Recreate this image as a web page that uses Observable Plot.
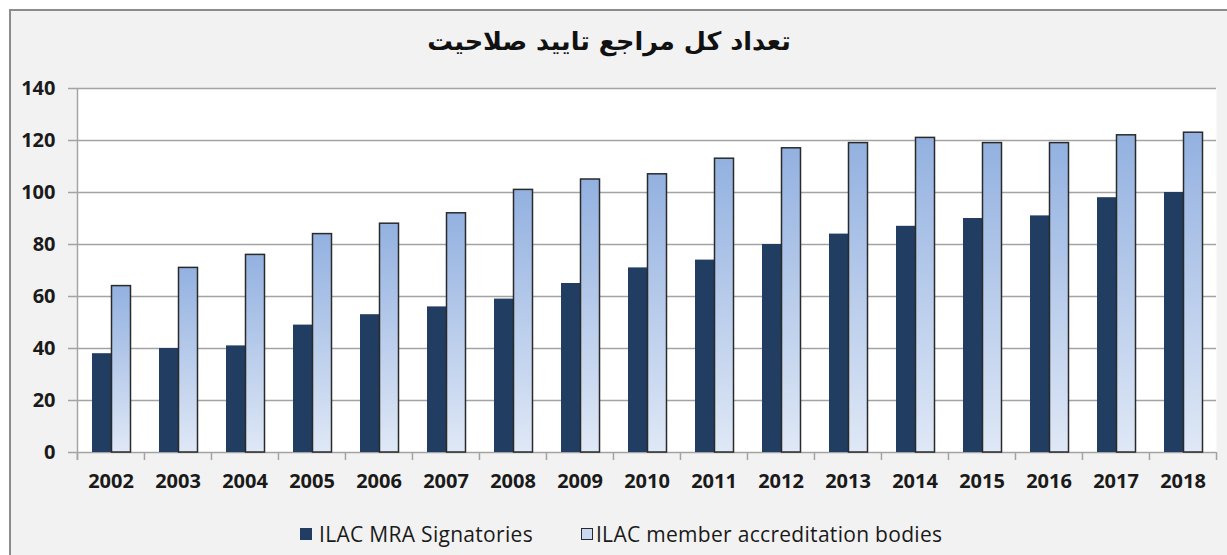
<!DOCTYPE html>
<html>
<head>
<meta charset="utf-8">
<script src="https://cdn.jsdelivr.net/npm/d3@7"></script>
<script src="https://cdn.jsdelivr.net/npm/@observablehq/plot@0.6"></script>
<style>
  html, body { margin: 0; padding: 0; background: #ffffff; }
  #wrap { position: relative; width: 1227px; height: 555px; overflow: hidden; background: #ffffff; }
  #panel { position: absolute; left: 9px; top: 9px; width: 1218px; height: 546px;
           background: #f2f2f2; border-top: 2px solid #8c8c8c; border-left: 2px solid #8c8c8c; box-sizing: border-box; }
  #title { position: absolute; left: 0; top: 26px; width: 1218px; text-align: center; direction: rtl;
           font-family: "DejaVu Sans", sans-serif; font-weight: bold; font-size: 25.5px; color: #111; }
  #chart { position: absolute; left: 0; top: 70px; }
  #legend { position: absolute; left: 300px; top: 520px; display: flex; align-items: center;
            font-family: "Open Sans", sans-serif; font-size: 21px; letter-spacing: 0.3px; color: #1a1a1a; }
  .sw { width: 12px; height: 12px; display: inline-block; margin-right: 7px; box-sizing: border-box; }
</style>
</head>
<body>
<div id="wrap">
  <div id="panel"></div>
  <div id="title">تعداد کل مراجع تایید صلاحیت</div>
  <div id="chart"></div>
  <div id="legend"></div>
</div>
<script>
const years = ["2002","2003","2004","2005","2006","2007","2008","2009","2010","2011","2012","2013","2014","2015","2016","2017","2018"];
const signatories = [38, 40, 41, 49, 53, 56, 59, 65, 71, 74, 80, 84, 87, 90, 91, 98, 100];
const members = [64, 71, 76, 84, 88, 92, 101, 105, 107, 113, 117, 119, 121, 119, 119, 122, 123];
const yTicks = [0, 20, 40, 60, 80, 100, 120, 140];
const seriesNames = ["ILAC MRA Signatories", "ILAC member accreditation bodies"];

const W = 1227, H = 430, mL = 76, mR = 11, mT = 18, mB = 48;
const bw = (W - mL - mR) / years.length;

const rowsA = years.map((y, i) => ({year: y, value: signatories[i]}));
const rowsB = years.map((y, i) => ({year: y, value: members[i]}));

const plot = Plot.plot({
  width: W, height: H,
  marginLeft: mL, marginRight: mR, marginTop: mT, marginBottom: mB,
  style: {fontFamily: "Open Sans, sans-serif", fontSize: "20px", fontWeight: "bold", color: "#1a1a1a", background: "transparent", overflow: "visible"},
  x: {type: "band", domain: years, paddingInner: 0, paddingOuter: 0, label: null},
  y: {domain: [0, 140], label: null},
  marks: [
    Plot.frame({fill: "white", stroke: null}),
    Plot.ruleY(yTicks, {stroke: "#a3a3a3", strokeWidth: 1.5}),
    Plot.axisY({ticks: yTicks, tickSize: 8, tickPadding: 13, stroke: "#a3a3a3", strokeWidth: 1.5, fill: "#1a1a1a"}),
    Plot.axisX({tickSize: 0, tickPadding: 21, fill: "#1a1a1a"}),
    Plot.ruleX([0], {x: () => years[0], y1: 140, y2: 0, insetBottom: -8, dx: -bw / 2, stroke: "#a3a3a3", strokeWidth: 1.5}),
    Plot.ruleX(years, {x: d => d, y1: 0, y2: 0, insetBottom: -8, dx: -bw / 2, stroke: "#a3a3a3", strokeWidth: 1.5}),
    Plot.ruleX([years[years.length - 1]], {x: d => d, y1: 0, y2: 0, insetBottom: -8, dx: bw / 2, stroke: "#a3a3a3", strokeWidth: 1.5}),
    Plot.barY(rowsA, {x: "year", y: "value", fill: "#213d61", insetLeft: 15, insetRight: bw - 34.5}),
    Plot.barY(rowsB, {x: "year", y: "value", fill: "url(#gradB)", stroke: "#2a2a2a", strokeWidth: 1.5, insetLeft: 34.5, insetRight: 13.5})
  ]
});

const ns = "http://www.w3.org/2000/svg";
const defs = document.createElementNS(ns, "defs");
defs.innerHTML = '<linearGradient id="gradB" x1="0" y1="0" x2="0" y2="1"><stop offset="0" stop-color="#93b1e0"/><stop offset="1" stop-color="#dfe8f6"/></linearGradient>';
plot.insertBefore(defs, plot.firstChild);
document.getElementById("chart").appendChild(plot);

const legend = document.getElementById("legend");
legend.innerHTML =
  '<span class="sw" style="background:#213d61"></span><span>' + seriesNames[0] + '</span>' +
  '<span style="display:inline-block;width:48px"></span>' +
  '<span class="sw" style="background:#c9d7f0;border:1.5px solid #2a2a2a;margin-right:3px"></span><span>' + seriesNames[1] + '</span>';
</script>
</body>
</html>
